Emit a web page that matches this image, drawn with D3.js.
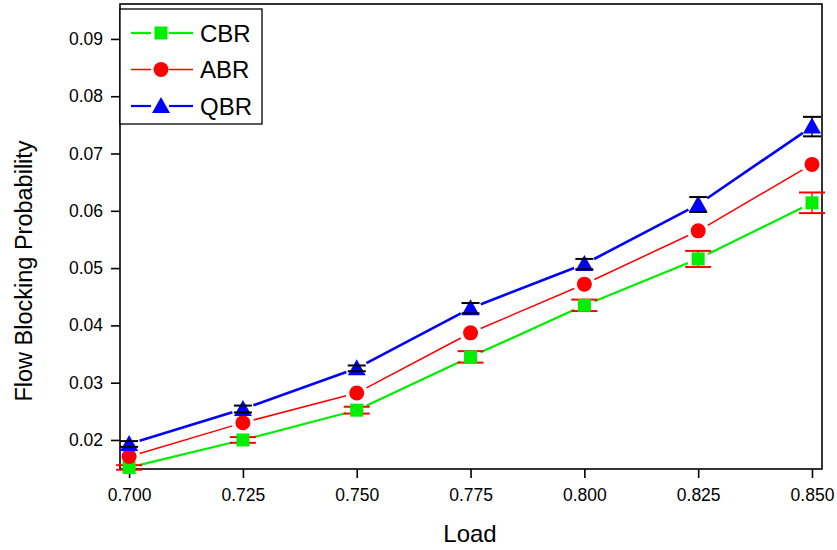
<!DOCTYPE html>
<html><head><meta charset="utf-8">
<script src="https://cdn.jsdelivr.net/npm/d3@7"></script>
<style>body{margin:0;background:#fff}svg{display:block;font-family:"Liberation Sans",Arial,sans-serif}</style>
</head><body><svg id="c" width="837" height="550"></svg>
<script>
const loads = [0.700, 0.725, 0.750, 0.775, 0.800, 0.825, 0.850];
const cbr = [0.0152, 0.0200, 0.0252, 0.0345, 0.0435, 0.0516, 0.0614];
const cbrErr = [0.0004, 0.0005, 0.0006, 0.0010, 0.0010, 0.0014, 0.0018];
const abr = [0.0171, 0.0230, 0.0282, 0.0387, 0.0472, 0.0565, 0.0681];
const qbr = [0.0193, 0.0254, 0.0325, 0.0430, 0.0507, 0.0611, 0.0747];
const qbrErr = [0.0005, 0.0006, 0.0005, 0.0009, 0.0009, 0.0013, 0.0017];
const xTicks = [0.700, 0.725, 0.750, 0.775, 0.800, 0.825, 0.850];
const yTicks = [0.02, 0.03, 0.04, 0.05, 0.06, 0.07, 0.08, 0.09];
const seriesNames = ["CBR", "ABR", "QBR"];

const svg = d3.select("#c");
const L = 120, R = 822, T = 4, B = 469;
const x = d3.scaleLinear().domain([0.698, 0.8522]).range([L, R]);
const y = d3.scaleLinear().domain([0.01493, 0.0961]).range([B, T]);

// frame
svg.append("rect").attr("x", L).attr("y", T).attr("width", R - L).attr("height", B - T)
  .attr("fill", "none").attr("stroke", "#000").attr("stroke-width", 1.6);

const xAxis = svg.append("g").attr("transform", `translate(0,${B})`)
  .call(d3.axisBottom(x).tickValues(xTicks).tickFormat(d3.format(".3f")).tickSizeOuter(0).tickSizeInner(9).tickPadding(11));
const yAxis = svg.append("g").attr("transform", `translate(${L},0)`)
  .call(d3.axisLeft(y).tickValues(yTicks).tickFormat(d3.format(".2f")).tickSizeOuter(0).tickSizeInner(9).tickPadding(8));
[xAxis, yAxis].forEach(a => {
  a.attr("font-size", null).attr("font-family", null);
  a.select(".domain").remove();
  a.selectAll("line").attr("stroke", "#000").attr("stroke-width", 1.6);
  a.selectAll("text").style("font-size", "17.5px").style("font-family", "'Liberation Sans', Arial, sans-serif").attr("fill", "#000");
});

svg.append("text").attr("x", 470).attr("y", 542).attr("text-anchor", "middle")
  .style("font-size", "24px").text("Load");
svg.append("text").attr("transform", "translate(32,271) rotate(-90)").attr("text-anchor", "middle")
  .style("font-size", "23.5px").text("Flow Blocking Probability");

const series = [
  {name: seriesNames[0], vals: cbr, color: "#00ee00", lw: 2.2, sym: "square", err: cbrErr, errColor: "#ff0000", cap: 26, capsOnTop: false},
  {name: seriesNames[1], vals: abr, color: "#ff0000", lw: 1.5, sym: "circle", err: null},
  {name: seriesNames[2], vals: qbr, color: "#0000ff", lw: 2.6, sym: "triangle", err: qbrErr, errColor: "#000000", cap: 18, capsOnTop: true}
];

function marker(g, s, cx, cy) {
  if (s.sym === "square") {
    g.append("rect").attr("x", cx - 6.5).attr("y", cy - 6.5).attr("width", 13).attr("height", 13).attr("fill", s.color);
  } else if (s.sym === "circle") {
    g.append("circle").attr("cx", cx).attr("cy", cy).attr("r", 7.5).attr("fill", s.color);
  } else {
    g.append("path").attr("d", `M${cx},${cy - 9}L${cx + 9},${cy + 7}L${cx - 9},${cy + 7}Z`).attr("fill", s.color);
  }
}

function caps(g, s) {
  loads.forEach((l, i) => {
    const cx = x(l), y1 = y(s.vals[i] + s.err[i]), y2 = y(s.vals[i] - s.err[i]);
    [y1, y2].forEach(yy => g.append("line").attr("x1", cx - s.cap / 2).attr("x2", cx + s.cap / 2)
      .attr("y1", yy).attr("y2", yy).attr("stroke", s.errColor).attr("stroke-width", 2));
  });
}

const gap = 11;
series.forEach(s => {
  const g = svg.append("g");
  const pts = loads.map((l, i) => [x(l), y(s.vals[i])]);
  for (let i = 0; i < pts.length - 1; i++) {
    const [x1, y1] = pts[i], [x2, y2] = pts[i + 1];
    const dx = x2 - x1, dy = y2 - y1, len = Math.hypot(dx, dy);
    const ux = dx / len, uy = dy / len;
    g.append("line").attr("x1", x1 + ux * gap).attr("y1", y1 + uy * gap)
      .attr("x2", x2 - ux * gap).attr("y2", y2 - uy * gap)
      .attr("stroke", s.color).attr("stroke-width", s.lw);
  }
  if (s.err) {
    loads.forEach((l, i) => {
      const cx = x(l);
      g.append("line").attr("x1", cx).attr("x2", cx)
        .attr("y1", y(s.vals[i] + s.err[i])).attr("y2", y(s.vals[i] - s.err[i]))
        .attr("stroke", s.errColor).attr("stroke-width", 1.3);
    });
    if (!s.capsOnTop) caps(g, s);
  }
  pts.forEach(([cx, cy]) => marker(g, s, cx, cy));
  if (s.err && s.capsOnTop) caps(g, s);
});

// legend
const lg = svg.append("g");
lg.append("rect").attr("x", L).attr("y", 9).attr("width", 142).attr("height", 115)
  .attr("fill", "#fff").attr("stroke", "#000").attr("stroke-width", 1.3);
series.forEach((s, i) => {
  const cy = 33 + i * 36.5;
  const lw = Math.min(s.lw, 2.2);
  lg.append("line").attr("x1", 131).attr("x2", 151).attr("y1", cy).attr("y2", cy).attr("stroke", s.color).attr("stroke-width", lw);
  lg.append("line").attr("x1", 169).attr("x2", 193).attr("y1", cy).attr("y2", cy).attr("stroke", s.color).attr("stroke-width", lw);
  marker(lg, s, 161, cy);
  lg.append("text").attr("x", 200).attr("y", cy + 8.5).style("font-size", "24px").text(s.name);
});
</script></body></html>
